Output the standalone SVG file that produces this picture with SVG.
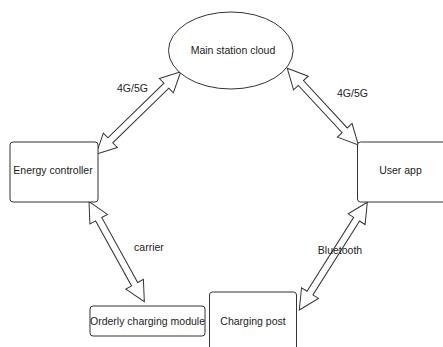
<svg xmlns="http://www.w3.org/2000/svg" width="443" height="347" viewBox="0 0 443 347">
<style>
.box{fill:#fff;stroke:#333;stroke-width:1}
.arr{fill:#fff;stroke:#333;stroke-width:1;stroke-linejoin:miter}
text{font-family:"Liberation Sans",Arial,sans-serif;font-size:10.5px;fill:#222;text-anchor:middle}
</style>
<rect width="443" height="347" fill="#fff"/>
<g id="connectors">
<polygon class="arr" transform="translate(96,154.3) rotate(-44.28)" points="0,0 20,-10 20,-3.5 98.3,-3.5 98.3,-10 118.3,0 98.3,10 98.3,3.5 20,3.5 20,10"/>
<polygon class="arr" transform="translate(287.3,68.3) rotate(47.2)" points="0,0 20,-10 20,-3.5 84.5,-3.5 84.5,-10 104.5,0 84.5,10 84.5,3.5 20,3.5 20,10"/>
<polygon class="arr" transform="translate(89,201.7) rotate(61.05)" points="0,0 20,-10 20,-3.5 94.3,-3.5 94.3,-10 114.3,0 94.3,10 94.3,3.5 20,3.5 20,10"/>
<polygon class="arr" transform="translate(299.3,310) rotate(-57.73)" points="0,0 20,-10 20,-3.5 107.4,-3.5 107.4,-10 127.4,0 107.4,10 107.4,3.5 20,3.5 20,10"/>
<text x="132.5" y="92">4G/5G</text>
<text x="352.5" y="96.5">4G/5G</text>
<text x="149" y="250.5">carrier</text>
<text x="340" y="253.5">Bluetooth</text>
</g>
<g id="main-station-cloud">
<ellipse class="box" cx="230.8" cy="50.5" rx="62.3" ry="38.5"/>
<text x="233" y="54">Main station cloud</text>
</g>
<g id="energy-controller">
<rect class="box" x="10" y="142" width="88" height="60" rx="3"/>
<text x="53" y="174">Energy controller</text>
</g>
<g id="user-app">
<rect class="box" x="357.5" y="142" width="90" height="60" rx="3"/>
<text x="400.5" y="174">User app</text>
</g>
<g id="orderly-charging-module">
<rect class="box" x="90" y="306" width="115" height="30" rx="3"/>
<text x="147.5" y="325" textLength="115" lengthAdjust="spacingAndGlyphs">Orderly charging module</text>
</g>
<g id="charging-post">
<rect class="box" x="209.5" y="292" width="87" height="60" rx="3"/>
<text x="253" y="325">Charging post</text>
</g>
</svg>
